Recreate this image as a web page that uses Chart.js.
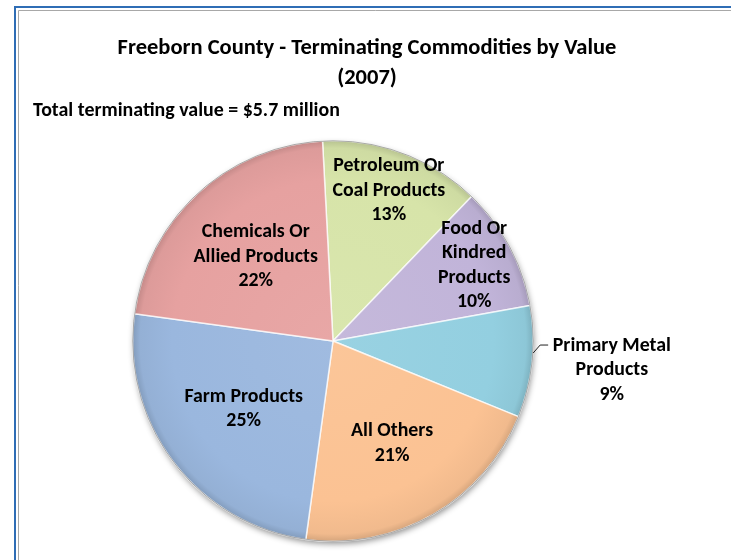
<!DOCTYPE html>
<html>
<head>
<meta charset="utf-8">
<script src="https://cdn.jsdelivr.net/npm/chart.js@4.4.0/dist/chart.umd.min.js"></script>
<style>
html,body{margin:0;padding:0;background:#fff;}
#wrap{position:relative;width:731px;height:560px;}
</style>
</head>
<body>
<div id="wrap"><canvas id="c" width="731" height="560"></canvas></div>
<script>
// ---- data ----
const categories = ["Petroleum Or Coal Products", "Food Or Kindred Products", "Primary Metal Products", "All Others", "Farm Products", "Chemicals Or Allied Products"];
const labelLines = [["Petroleum Or","Coal Products"], ["Food Or","Kindred","Products"], ["Primary Metal","Products"], ["All Others"], ["Farm Products"], ["Chemicals Or","Allied Products"]];
const shares = [13, 10, 9, 21, 25, 22];
const colors = ["#d7e4a9", "#c1b4d9", "#93cfe0", "#fbc293", "#9ab7de", "#e6a1a0"];
const titleLines = ["Freeborn County - Terminating Commodities by Value", "(2007)"];
const subtitleBold = "Total";
const subtitleRest = " terminating value = $5.7 million";

const FONT = "Carlito, Calibri, Lato, 'Liberation Sans', sans-serif";

function shade(hex, f){
  const n=parseInt(hex.slice(1),16);
  let r=(n>>16)&255,g=(n>>8)&255,b=n&255;
  if(f<0){r=Math.round(r*(1+f));g=Math.round(g*(1+f));b=Math.round(b*(1+f));}
  else {r=Math.round(r+(255-r)*f);g=Math.round(g+(255-g)*f);b=Math.round(b+(255-b)*f);}
  return `rgb(${r},${g},${b})`;
}
// font size giving a text a target width
function fitSize(c, text, width){
  c.font=`bold 100px ${FONT}`;
  return 100*width/c.measureText(text).width;
}

const frame = {
  id:'frame',
  beforeDraw(chart){
    const c=chart.ctx;
    c.save();
    c.fillStyle='#fff'; c.fillRect(0,0,chart.width,chart.height);
    c.strokeStyle='#2f6db5'; c.lineWidth=2;
    c.beginPath(); c.moveTo(15,chart.height+5); c.lineTo(15,7); c.lineTo(chart.width+5,7); c.stroke();
    c.strokeStyle='#a8a8a8'; c.lineWidth=1;
    c.beginPath(); c.moveTo(18.5,chart.height+5); c.lineTo(18.5,10.5); c.lineTo(chart.width+5,10.5); c.stroke();
    // titles
    c.fillStyle='#000'; c.textAlign='center'; c.textBaseline='middle';
    const ts=fitSize(c,titleLines[0],499);
    c.font=`bold ${ts}px ${FONT}`;
    c.fillText(titleLines[0],367,48);
    c.fillText(titleLines[1],367,78);
    c.textAlign='left';
    const ss=fitSize(c,subtitleBold+subtitleRest,307);
    c.font=`bold ${ss}px ${FONT}`;
    c.fillText(subtitleBold,33,111);
    const w=c.measureText(subtitleBold).width;
    c.fillText(subtitleRest,33+w,111);
    c.restore();
  },
  beforeDatasetsDraw(chart){
    const arc=chart.getDatasetMeta(0).data[0];
    if(!arc) return;
    const c=chart.ctx;
    c.save();
    c.shadowColor='rgba(0,0,0,0.45)'; c.shadowBlur=6; c.shadowOffsetX=1; c.shadowOffsetY=3;
    c.fillStyle='#bbb';
    c.beginPath(); c.arc(arc.x,arc.y,arc.outerRadius-0.5,0,Math.PI*2); c.fill();
    c.restore();
  },
  afterDatasetsDraw(chart){
    const meta=chart.getDatasetMeta(0);
    const c=chart.ctx;
    const fr=chart.options.plugins.frame.radial;
    const total=shares.reduce((a,b)=>a+b,0);
    c.save();
    const a0=meta.data[0];
    c.strokeStyle='rgba(110,110,110,0.55)'; c.lineWidth=1;
    c.beginPath(); c.arc(a0.x,a0.y,a0.outerRadius,0,Math.PI*2); c.stroke();
    c.fillStyle='#000'; c.textAlign='center'; c.textBaseline='middle';
    const ls=fitSize(c,"Chemicals Or",108);
    c.font=`bold ${ls}px ${FONT}`;
    meta.data.forEach((a,i)=>{
      const mid=(a.startAngle+a.endAngle)/2;
      const r=a.outerRadius*fr[i];
      const x=a.x+Math.cos(mid)*r, y=a.y+Math.sin(mid)*r;
      const lines=labelLines[i].concat([Math.round(shares[i]/total*100)+'%']);
      const lh=24.5;
      const y0=y-(lines.length-1)*lh/2;
      lines.forEach((t,k)=>c.fillText(t,x,y0+k*lh));
      if(fr[i]>1){
        const ex=a.x+Math.cos(mid)*(a.outerRadius+1), ey=a.y+Math.sin(mid)*(a.outerRadius+1)-9;
        c.strokeStyle='#222'; c.lineWidth=1;
        c.beginPath(); c.moveTo(ex,ey); c.lineTo(ex+7,ey-8); c.lineTo(ex+15,ey-8); c.stroke();
      }
    });
    c.restore();
  }
};

new Chart(document.getElementById('c'),{
  type:'pie',
  data:{
    labels:categories,
    datasets:[{
      data:shares,
      backgroundColor:(ctx)=>{
        const base=colors[ctx.dataIndex];
        const ch=ctx.chart; const ca=ch.chartArea;
        if(!ca) return base;
        const cx=(ca.left+ca.right)/2, cy=(ca.top+ca.bottom)/2;
        const R=Math.min(ca.right-ca.left,ca.bottom-ca.top)/2;
        const g=ch.ctx.createRadialGradient(cx,cy,0,cx,cy,R);
        g.addColorStop(0,shade(base,0.06));
        g.addColorStop(0.8,base);
        g.addColorStop(0.96,shade(base,-0.04));
        g.addColorStop(1,shade(base,-0.16));
        return g;
      },
      borderColor:'rgba(255,255,255,0.75)',
      borderWidth:1.5,
      borderAlign:'center'
    }]
  },
  options:{
    responsive:false,
    animation:false,
    rotation:-3,
    layout:{padding:{top:140,bottom:18,left:132,right:197}},
    plugins:{
      legend:{display:false},
      tooltip:{enabled:false},
      title:{display:false},
      frame:{radial:[0.80,0.80,1.40,0.59,0.56,0.57]}
    }
  },
  plugins:[frame]
});
</script>
</body>
</html>
